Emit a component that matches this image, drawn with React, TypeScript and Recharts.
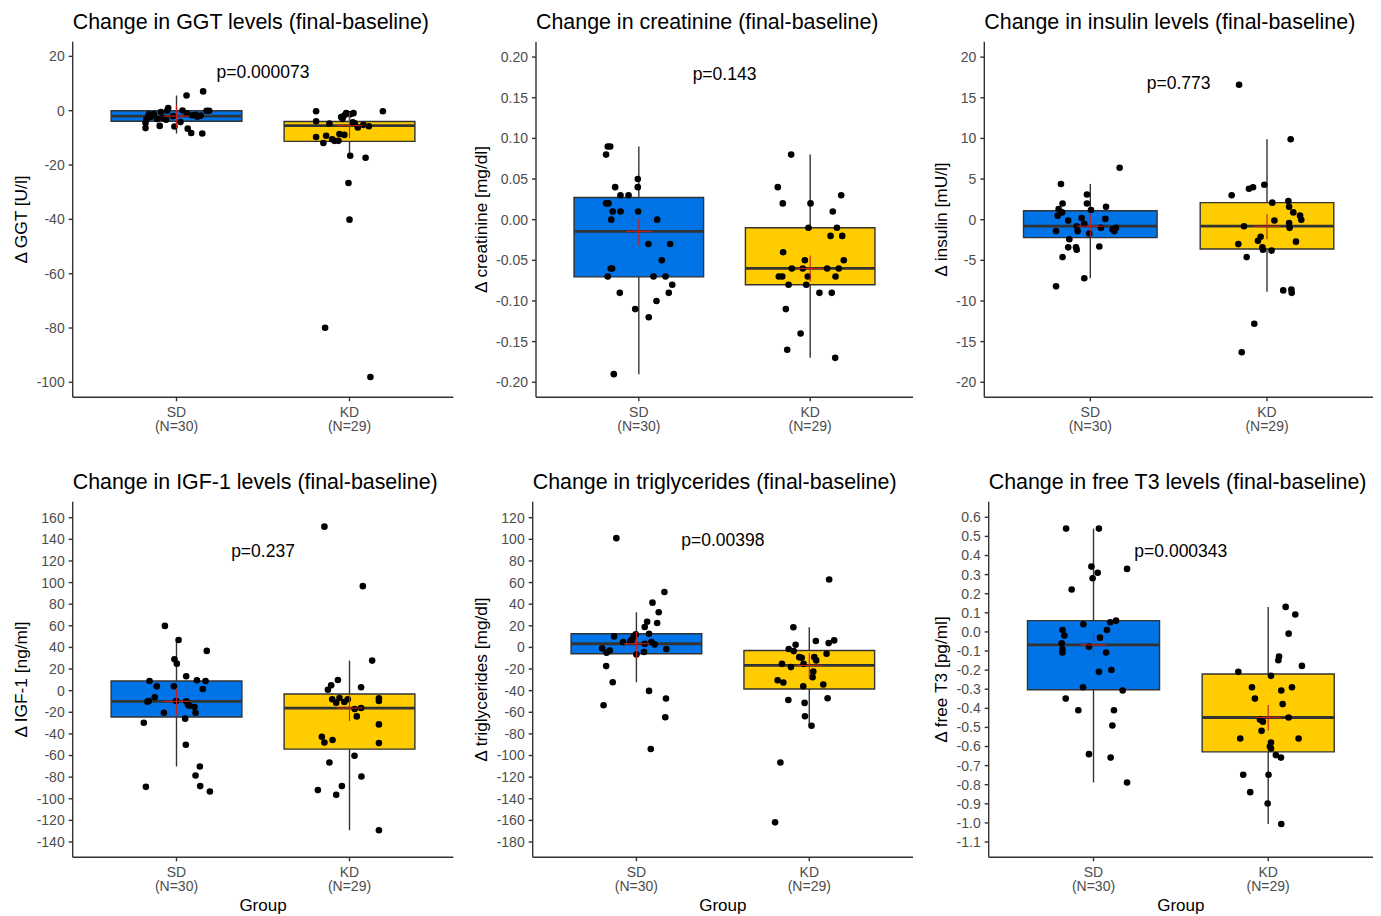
import React from 'react';
import {
  ComposedChart,
  Scatter,
  XAxis,
  YAxis,
  ReferenceArea,
  ReferenceLine,
  ReferenceDot,
} from 'recharts';

// ---------- categories ----------
const groups = ['SD', 'KD'];
const groupN = ['(N=30)', '(N=29)'];
const groupPos = [1, 2];

// ---------- GGT ----------
const ggtSdValues = [7.1, 5.6, 1.0, 0.0, 0.1, 0.0, 0.0, -1.5, -1.7, -1.8, -1.2, -1.7, -2.3, -3.1, -3.2, -4.5, -6.4, -5.6, -5.8, -4.2, -6.6, -8.2, -8.4, -2.0, -1.0, -2.6, -3.3, -0.5, -2.2, -1.3];
const ggtSdJitter = [0.154, 0.058, -0.048, -0.054, 0.035, 0.174, 0.189, 0.11, 0.09, 0.14, -0.131, -0.141, -0.15, -0.112, -0.174, -0.179, -0.179, -0.097, -0.012, 0.023, 0.065, 0.085, 0.149, -0.02, 0.06, -0.08, -0.06, -0.09, 0.12, -0.16];
const ggtKdValues = [-0.2, -0.2, -0.9, -0.9, -1.7, -2.3, -3.9, -4.7, -4.3, -6.2, -5.7, -8.6, -9.2, -9.7, -11.9, -11.1, -11.1, -16.6, -17.3, -26.6, -40.1, -79.9, -98.0, -1.3, -4.6, -5.2, -8.9, -10.5, -3.0];
const ggtKdJitter = [-0.193, 0.193, -0.019, 0.023, -0.029, -0.048, -0.193, -0.116, 0.019, 0.048, 0.112, -0.058, -0.135, -0.193, -0.151, -0.087, -0.064, 0.004, 0.093, -0.006, 0.0, -0.141, 0.121, 0.005, 0.03, 0.08, -0.03, -0.1, -0.04];
const ggtSdBox = [-8.4, -3.9, -2.0, 0.0, 5.6];
const ggtKdBox = [-17.3, -11.3, -5.5, -4.0, -0.2];
const ggtSdCross = [-2.0, -6.5, 2.2];
const ggtKdCross = [-5.5, -10.1, -0.6];
const ggtTicks = [20, 0, -20, -40, -60, -80, -100];

// ---------- creatinine ----------
const creaSdValues = [0.09, 0.09, 0.08, 0.05, 0.04, 0.04, 0.03, 0.03, 0.02, 0.02, 0.01, 0.01, 0.01, 0.0, 0.0, -0.03, -0.03, -0.05, -0.06, -0.06, -0.07, -0.07, -0.07, -0.08, -0.09, -0.09, -0.1, -0.11, -0.12, -0.19];
const creaSdJitter = [-0.181, -0.167, -0.191, -0.006, -0.006, -0.138, -0.107, -0.06, -0.191, -0.177, -0.152, -0.107, -0.004, -0.161, 0.107, 0.056, 0.183, 0.134, -0.156, -0.164, -0.181, 0.086, 0.156, 0.195, -0.111, 0.175, 0.103, -0.021, 0.058, -0.146];
const creaKdValues = [0.08, 0.04, 0.03, 0.02, 0.02, 0.01, -0.01, -0.01, -0.02, -0.02, -0.04, -0.05, -0.05, -0.06, -0.06, -0.06, -0.06, -0.07, -0.07, -0.07, -0.07, -0.08, -0.08, -0.09, -0.09, -0.11, -0.14, -0.16, -0.17];
const creaKdJitter = [-0.111, -0.189, 0.181, -0.16, 0.002, 0.132, -0.01, 0.156, 0.119, 0.187, -0.158, -0.031, 0.196, -0.107, -0.043, 0.099, 0.167, -0.183, -0.163, -0.014, 0.148, -0.126, -0.023, 0.054, 0.126, -0.142, -0.056, -0.134, 0.146];
const creaSdBox = [-0.19, -0.0704, -0.0144, 0.0272, 0.09];
const creaKdBox = [-0.17, -0.08, -0.06, -0.01, 0.08];
const creaSdCross = [-0.0144, -0.032, 0.001];
const creaKdCross = [-0.06, -0.076, -0.044];
const creaTicks = [0.2, 0.15, 0.1, 0.05, 0.0, -0.05, -0.1, -0.15, -0.2];

// ---------- insulin ----------
const insSdValues = [6.4, 4.4, 3.1, 2.0, 1.6, 1.2, 2.0, 1.3, 0.9, 0.5, -0.1, 0.2, 0.1, -0.8, -0.5, -1.4, -1.4, -1.7, -1.0, -1.2, -1.0, -1.4, -2.4, -3.4, -3.4, -3.7, -3.3, -4.6, -7.2, -8.2];
const insSdJitter = [0.166, -0.166, -0.019, -0.019, 0.089, 0.004, -0.157, -0.179, -0.16, -0.185, -0.125, -0.049, 0.085, -0.077, -0.034, -0.194, -0.072, -0.006, 0.06, 0.126, 0.145, 0.136, -0.119, -0.125, -0.081, -0.077, 0.051, -0.157, -0.034, -0.194];
const insKdValues = [16.6, 9.9, 4.3, 4.0, 3.8, 3.0, 2.3, 2.1, 1.6, 0.9, 0.5, 0.0, -0.1, -0.4, -0.8, -1.0, -2.1, -2.6, -2.7, -3.0, -3.4, -3.7, -3.8, -4.6, -8.6, -8.7, -9.0, -12.8, -16.3];
const insKdJitter = [-0.158, 0.134, -0.015, -0.079, -0.102, -0.2, 0.121, 0.03, 0.125, 0.149, 0.187, 0.194, 0.042, 0.125, -0.13, 0.128, -0.036, -0.051, 0.164, -0.162, -0.026, -0.023, 0.026, -0.115, 0.138, 0.092, 0.14, -0.072, -0.143];
const insSdBox = [-7.2, -2.2, -0.8, 1.1, 4.4];
const insKdBox = [-8.85, -3.6, -0.8, 2.1, 9.9];
const insSdCross = [-0.8, -2.1, 0.7];
const insKdCross = [-0.8, -2.4, 0.7];
const insTicks = [20, 15, 10, 5, 0, -5, -10, -15, -20];

// ---------- IGF-1 ----------
const igfSdValues = [59.9, 46.9, 36.8, 29.0, 25.0, 13.3, 9.0, 9.6, 9.0, 4.0, 4.0, 1.5, -6.2, -9.6, -10.2, -9.6, -9.9, -13.0, -14.0, -15.1, -20.4, -20.4, -25.9, -29.7, -50.0, -70.1, -78.5, -88.3, -89.0, -93.3];
const igfSdJitter = [-0.067, 0.012, 0.175, -0.012, 0.002, 0.056, -0.156, 0.118, 0.168, -0.114, -0.015, 0.152, -0.126, -0.16, -0.168, -0.002, 0.056, 0.066, 0.075, 0.104, 0.11, -0.073, 0.05, -0.189, 0.054, 0.135, 0.11, 0.137, -0.177, 0.193];
const igfKdValues = [151.7, 96.7, 27.8, 9.9, 4.9, 0.9, 3.1, -8.0, -11.1, -6.8, -8.0, -7.1, -9.6, -10.5, -16.1, -17.0, -23.8, -31.2, -42.6, -47.9, -45.7, -48.5, -60.2, -66.4, -79.4, -88.3, -92.0, -96.4, -129.1];
const igfKdJitter = [-0.145, 0.077, 0.131, -0.067, -0.106, -0.125, 0.067, -0.1, -0.077, -0.058, -0.01, 0.17, 0.17, -0.03, 0.067, 0.03, 0.042, 0.17, -0.16, -0.145, -0.098, 0.17, 0.029, -0.116, 0.069, -0.044, -0.183, -0.077, 0.17];
const igfSdBox = [-70.1, -24.4, -9.9, 9.0, 46.9];
const igfKdBox = [-129.1, -54.1, -16.1, -3.1, 27.8];
const igfSdCross = [-9.9, -22.9, 1.9];
const igfKdCross = [-16.1, -28.1, -4.3];
const igfTicks = [160, 140, 120, 100, 80, 60, 40, 20, 0, -20, -40, -60, -80, -100, -120, -140];

// ---------- triglycerides ----------
const tgSdValues = [101.1, 51.3, 41.4, 32.5, 23.8, 22.6, 18.9, 12.7, 10.2, 10.2, 12.1, 7.4, 6.0, 4.9, 4.9, 2.8, 3.4, -0.9, -2.8, -4.9, -1.5, -4.3, -6.5, -17.3, -32.2, -40.2, -53.5, -47.3, -64.6, -94.0];
const tgSdJitter = [-0.116, 0.162, 0.093, 0.129, 0.062, 0.12, 0.048, 0.073, -0.129, -0.015, -0.004, -0.025, -0.035, -0.077, 0.087, 0.106, 0.048, -0.198, -0.154, -0.173, 0.173, 0.044, 0.0, -0.175, -0.137, 0.073, -0.19, 0.171, 0.167, 0.083];
const tgKdValues = [62.8, 18.6, 5.9, 4.0, 6.5, 2.5, -1.5, -3.4, -5.9, -9.0, -9.0, -9.6, -12.0, -15.2, -15.2, -18.2, -22.3, -27.5, -30.3, -32.5, -35.9, -34.3, -48.6, -51.3, -47.0, -63.7, -72.4, -106.4, -161.8];
const tgKdJitter = [0.115, -0.092, 0.038, 0.112, 0.144, -0.079, -0.119, -0.09, 0.1, 0.029, -0.058, -0.044, 0.04, -0.158, -0.033, -0.106, 0.023, 0.019, -0.183, -0.15, -0.035, 0.081, -0.121, -0.027, 0.106, -0.025, 0.013, -0.167, -0.198];
const tgSdBox = [-32.2, -5.9, 3.4, 12.7, 32.5];
const tgKdBox = [-72.4, -38.4, -16.7, -2.8, 18.6];
const tgSdCross = [3.4, -10.5, 14.2];
const tgKdCross = [-16.7, -29.1, -4.9];
const tgTicks = [120, 100, 80, 60, 40, 20, 0, -20, -40, -60, -80, -100, -120, -140, -160, -180];

// ---------- free T3 ----------
const t3SdValues = [0.541, 0.541, 0.342, 0.31, 0.281, 0.33, 0.222, 0.059, 0.051, 0.04, 0.01, 0.01, -0.019, -0.03, -0.059, -0.091, -0.108, -0.077, -0.108, -0.209, -0.199, -0.29, -0.307, -0.349, -0.41, -0.41, -0.49, -0.64, -0.658, -0.788];
const t3SdJitter = [-0.157, 0.031, -0.012, 0.024, -0.005, 0.192, -0.125, 0.129, 0.096, -0.058, -0.177, 0.077, -0.167, 0.037, -0.182, -0.178, -0.178, -0.026, 0.072, 0.031, 0.102, -0.06, 0.167, -0.159, -0.087, 0.117, 0.108, -0.026, 0.098, 0.192];
const t3KdValues = [0.131, 0.091, -0.009, -0.129, -0.148, -0.178, -0.209, -0.23, -0.29, -0.307, -0.29, -0.349, -0.378, -0.448, -0.459, -0.47, -0.518, -0.558, -0.558, -0.579, -0.6, -0.61, -0.645, -0.658, -0.748, -0.748, -0.839, -0.898, -1.006];
const t3KdJitter = [0.1, 0.155, 0.117, 0.062, 0.058, 0.193, -0.171, 0.016, -0.093, 0.075, 0.136, -0.076, 0.083, 0.117, -0.047, -0.03, -0.038, -0.16, 0.174, 0.016, 0.01, 0.016, 0.044, 0.073, -0.143, 0.002, -0.103, -0.003, 0.075];
const t3SdBox = [-0.788, -0.303, -0.068, 0.059, 0.541];
const t3KdBox = [-1.006, -0.628, -0.448, -0.22, 0.131];
const t3SdCross = [-0.068, -0.138, -0.002];
const t3KdCross = [-0.448, -0.516, -0.382];
const t3Ticks = [0.6, 0.5, 0.4, 0.3, 0.2, 0.1, 0.0, -0.1, -0.2, -0.3, -0.4, -0.5, -0.6, -0.7, -0.8, -0.9, -1.0, -1.1];

// ---------- panel definitions ----------
const panels = [
  { title: 'Change in GGT levels (final-baseline)', yLabel: '\u0394 GGT [U/l]', sd: ggtSdValues, sdJ: ggtSdJitter, kd: ggtKdValues, kdJ: ggtKdJitter, sdBox: ggtSdBox, kdBox: ggtKdBox, sdCross: ggtSdCross, kdCross: ggtKdCross, ticks: ggtTicks, domain: [-105.5, 25.4], dec: 0, pText: 'p=0.000073', pY: 14.5 },
  { title: 'Change in creatinine (final-baseline)', yLabel: '\u0394 creatinine [mg/dl]', sd: creaSdValues, sdJ: creaSdJitter, kd: creaKdValues, kdJ: creaKdJitter, sdBox: creaSdBox, kdBox: creaKdBox, sdCross: creaSdCross, kdCross: creaKdCross, ticks: creaTicks, domain: [-0.2185, 0.2189], dec: 2, pText: 'p=0.143', pY: 0.179 },
  { title: 'Change in insulin levels (final-baseline)', yLabel: '\u0394 insulin [mU/l]', sd: insSdValues, sdJ: insSdJitter, kd: insKdValues, kdJ: insKdJitter, sdBox: insSdBox, kdBox: insKdBox, sdCross: insSdCross, kdCross: insKdCross, ticks: insTicks, domain: [-21.85, 21.9], dec: 0, pText: 'p=0.773', pY: 16.9 },
  { title: 'Change in IGF-1 levels (final-baseline)', yLabel: '\u0394 IGF-1 [ng/ml]', sd: igfSdValues, sdJ: igfSdJitter, kd: igfKdValues, kdJ: igfKdJitter, sdBox: igfSdBox, kdBox: igfKdBox, sdCross: igfSdCross, kdCross: igfKdCross, ticks: igfTicks, domain: [-154.15, 174.8], dec: 0, pText: 'p=0.237', pY: 129.1 },
  { title: 'Change in triglycerides (final-baseline)', yLabel: '\u0394 triglycerides [mg/dl]', sd: tgSdValues, sdJ: tgSdJitter, kd: tgKdValues, kdJ: tgKdJitter, sdBox: tgSdBox, kdBox: tgKdBox, sdCross: tgSdCross, kdCross: tgKdCross, ticks: tgTicks, domain: [-194.15, 134.8], dec: 0, pText: 'p=0.00398', pY: 99.3 },
  { title: 'Change in free T3 levels (final-baseline)', yLabel: '\u0394 free T3 [pg/ml]', sd: t3SdValues, sdJ: t3SdJitter, kd: t3KdValues, kdJ: t3KdJitter, sdBox: t3SdBox, kdBox: t3KdBox, sdCross: t3SdCross, kdCross: t3KdCross, ticks: t3Ticks, domain: [-1.18, 0.6818], dec: 1, pText: 'p=0.000343', pY: 0.426 },
];

// ---------- layout / style ----------
const FONT = '"Liberation Sans", Arial, Helvetica, sans-serif';
const COL_LEFT = [0, 460, 920];
const COL_W = [460, 460, 461];
const ROW_TOP = [0, 460];
const ROW_H = [460, 456];
const PLOT_LEFT = [[72.7, 536, 984.3], [72.7, 532.7, 988.7]];
const PLOT_RIGHT = [453.3, 913, 1373];
const PLOT_TOP = 41.7;
const PLOT_BOTTOM = 397.3;
const Y_AXIS_W = 50;
const X_AXIS_H = 40;
const BOX_HALF = 0.378;
const CROSS_HALF = 0.075;
const FILLS = ['#0073E6', '#FFCC00'];
const DARK = '#333333';
const RED = '#C81E1E';
const TICK_GRAY = '#4D4D4D';
const P_FONT = 17.5;

const XTick = (props: any) => {
  const { x, payload } = props;
  const i = groupPos.indexOf(payload.value);
  return (
    <g>
      <text x={x} y={PLOT_BOTTOM + 19.4} textAnchor="middle" fontSize={14} fill={TICK_GRAY} fontFamily={FONT}>
        {groups[i]}
      </text>
      <text x={x} y={PLOT_BOTTOM + 33.4} textAnchor="middle" fontSize={14} fill={TICK_GRAY} fontFamily={FONT}>
        {groupN[i]}
      </text>
    </g>
  );
};

const Dot = (p: any) => <circle cx={p.cx} cy={p.cy} r={3.3} fill="#000" />;

const makePLabel = (text: string) => (props: any) => {
  const vb = props.viewBox || {};
  const cx = (vb.x || 0) + (vb.width || 0) / 2;
  const cy = (vb.y || 0) + (vb.height || 0) / 2;
  return (
    <text x={cx} y={cy + P_FONT * 0.355} textAnchor="middle" fontSize={P_FONT} fill="#000" fontFamily={FONT}>
      {text}
    </text>
  );
};

function Panel({ cfg, idx }: { cfg: any; idx: number }) {
  const row = Math.floor(idx / 3);
  const col = idx % 3;
  const left = COL_LEFT[col];
  const top = ROW_TOP[row];
  const w = COL_W[col];
  const h = ROW_H[row];
  const margin = {
    left: PLOT_LEFT[row][col] - left - Y_AXIS_W,
    right: left + w - PLOT_RIGHT[col],
    top: PLOT_TOP,
    bottom: h - PLOT_BOTTOM - X_AXIS_H,
  };
  const points = [
    ...cfg.sd.map((v: number, i: number) => ({ x: groupPos[0] + cfg.sdJ[i], y: v })),
    ...cfg.kd.map((v: number, i: number) => ({ x: groupPos[1] + cfg.kdJ[i], y: v })),
  ];
  const boxes = [cfg.sdBox, cfg.kdBox];
  const crosses = [cfg.sdCross, cfg.kdCross];

  return (
    <div style={{ position: 'absolute', left, top, width: w, height: h }}>
      <ComposedChart width={w} height={h} margin={margin} style={{ fontFamily: FONT }}>
        <XAxis
          type="number"
          dataKey="x"
          domain={[0.4, 2.6]}
          ticks={groupPos}
          interval={0}
          allowDataOverflow
          height={X_AXIS_H}
          tickSize={4}
          tick={<XTick />}
          axisLine={{ stroke: DARK, strokeWidth: 1.4 }}
          tickLine={{ stroke: DARK, strokeWidth: 1.4 }}
        />
        <YAxis
          type="number"
          dataKey="y"
          domain={cfg.domain}
          ticks={cfg.ticks}
          interval={0}
          allowDataOverflow
          width={Y_AXIS_W}
          tickSize={4}
          tickMargin={4}
          tickFormatter={(v: number) => v.toFixed(cfg.dec)}
          tick={{ fontSize: 14, fill: TICK_GRAY, fontFamily: FONT }}
          axisLine={{ stroke: DARK, strokeWidth: 1.4 }}
          tickLine={{ stroke: DARK, strokeWidth: 1.4 }}
        />
        {boxes.map((b: number[], g: number) => (
          <ReferenceArea
            key={'box' + g}
            x1={groupPos[g] - BOX_HALF}
            x2={groupPos[g] + BOX_HALF}
            y1={b[1]}
            y2={b[3]}
            fill={FILLS[g]}
            fillOpacity={1}
            stroke={DARK}
            strokeWidth={1.4}
            ifOverflow="visible"
          />
        ))}
        {boxes.map((b: number[], g: number) => (
          <ReferenceLine
            key={'wu' + g}
            segment={[{ x: groupPos[g], y: b[3] }, { x: groupPos[g], y: b[4] }]}
            stroke={DARK}
            strokeWidth={1.4}
            ifOverflow="visible"
          />
        ))}
        {boxes.map((b: number[], g: number) => (
          <ReferenceLine
            key={'wl' + g}
            segment={[{ x: groupPos[g], y: b[0] }, { x: groupPos[g], y: b[1] }]}
            stroke={DARK}
            strokeWidth={1.4}
            ifOverflow="visible"
          />
        ))}
        {boxes.map((b: number[], g: number) => (
          <ReferenceLine
            key={'med' + g}
            segment={[{ x: groupPos[g] - BOX_HALF, y: b[2] }, { x: groupPos[g] + BOX_HALF, y: b[2] }]}
            stroke={DARK}
            strokeWidth={2.8}
            ifOverflow="visible"
          />
        ))}
        <Scatter data={points} dataKey="y" shape={<Dot />} isAnimationActive={false} />
        {crosses.map((c: number[], g: number) => (
          <ReferenceLine
            key={'ch' + g}
            segment={[{ x: groupPos[g] - CROSS_HALF, y: c[0] }, { x: groupPos[g] + CROSS_HALF, y: c[0] }]}
            stroke={RED}
            strokeWidth={1.1}
            ifOverflow="visible"
            zIndex={700}
          />
        ))}
        {crosses.map((c: number[], g: number) => (
          <ReferenceLine
            key={'cv' + g}
            segment={[{ x: groupPos[g], y: c[1] }, { x: groupPos[g], y: c[2] }]}
            stroke={RED}
            strokeWidth={1.1}
            ifOverflow="visible"
            zIndex={700}
          />
        ))}
        <ReferenceDot
          x={1.5}
          y={cfg.pY}
          r={0}
          fill="none"
          stroke="none"
          ifOverflow="visible"
          label={{ content: makePLabel(cfg.pText) }}
        />
      </ComposedChart>
    </div>
  );
}

export default function App() {
  return (
    <div
      style={{
        position: 'absolute',
        left: 0,
        top: 0,
        width: 1381,
        height: 916,
        background: '#fff',
        overflow: 'hidden',
        fontFamily: FONT,
      }}
    >
      {panels.map((cfg, i) => (
        <Panel key={i} cfg={cfg} idx={i} />
      ))}
      <svg
        width={1381}
        height={916}
        style={{ position: 'absolute', left: 0, top: 0, pointerEvents: 'none' }}
      >
        {panels.map((cfg, i) => {
          const row = Math.floor(i / 3);
          const col = i % 3;
          const top = ROW_TOP[row];
          const pl = PLOT_LEFT[row][col];
          const cy = top + (PLOT_TOP + PLOT_BOTTOM) / 2;
          const lx = COL_LEFT[col] + 27;
          return (
            <g key={i} fontFamily={FONT}>
              <text x={pl} y={top + 28.5} fontSize={21.4} fill="#000">
                {cfg.title}
              </text>
              <text
                x={lx}
                y={cy}
                fontSize={17.3}
                fill="#000"
                textAnchor="middle"
                transform={`rotate(-90 ${lx} ${cy})`}
              >
                {cfg.yLabel}
              </text>
              {row === 1 && (
                <text x={(pl + PLOT_RIGHT[col]) / 2} y={top + 451} fontSize={17} fill="#000" textAnchor="middle">
                  Group
                </text>
              )}
            </g>
          );
        })}
      </svg>
    </div>
  );
}
